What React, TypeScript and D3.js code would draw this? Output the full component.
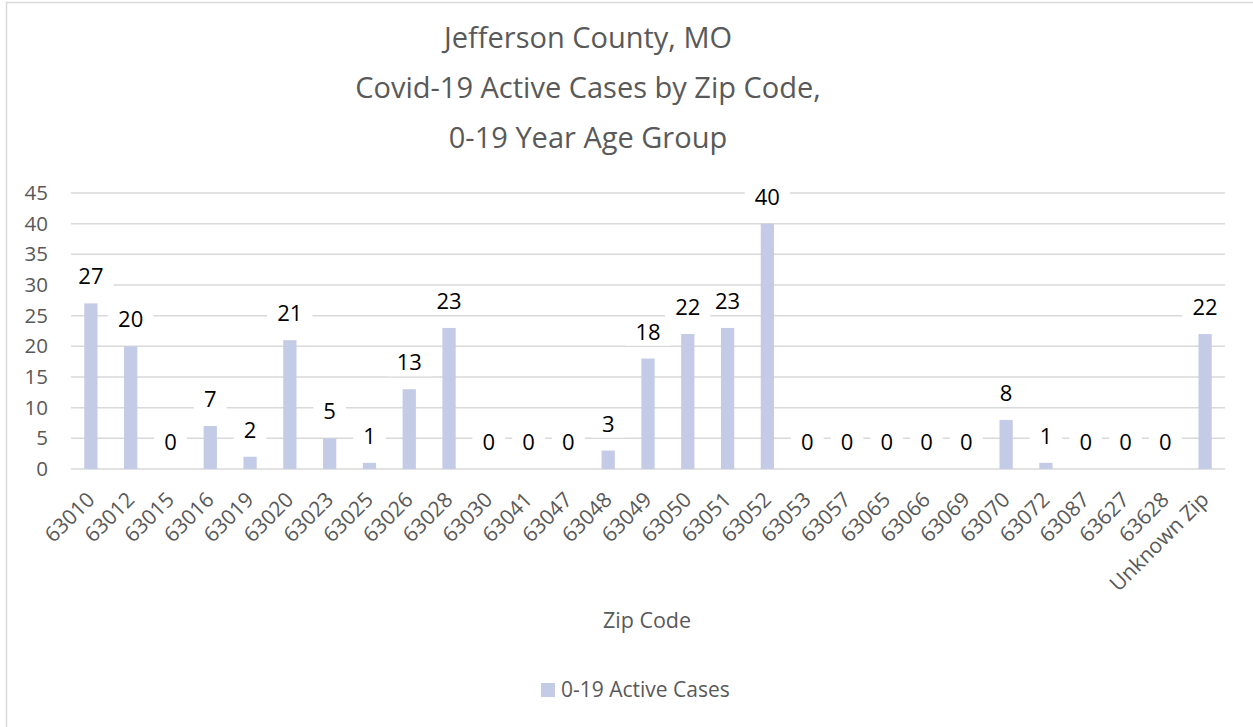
import React from "react";
import * as d3 from "d3";

const categories = ["63010","63012","63015","63016","63019","63020","63023","63025","63026","63028","63030","63041","63047","63048","63049","63050","63051","63052","63053","63057","63065","63066","63069","63070","63072","63087","63627","63628","Unknown Zip"];
const values = [27,20,0,7,2,21,5,1,13,23,0,0,0,3,18,22,23,40,0,0,0,0,0,8,1,0,0,0,22];
const yTicks = [0,5,10,15,20,25,30,35,40,45];
const titleLines = ["Jefferson County, MO","Covid-19 Active Cases by Zip Code,","0-19 Year Age Group"];
const seriesName = "0-19 Active Cases";
const xAxisTitle = "Zip Code";

const W = 1253, H = 727;
const FONT = "'Open Sans', Lato, sans-serif";
const GRAY = "#595959";
const BAR = "#c3cbe6";
const GRID = "#d9d9d9";

export default function App() {
  const x = d3.scaleBand<string>().domain(categories).range([71, 1225]).paddingInner(0.667).paddingOuter(0.3335);
  const y = d3.scaleLinear().domain([0, 45]).range([469, 193]);
  const labelFont = 22;
  return (
    <svg width={W} height={H} style={{ position: "absolute", left: 0, top: 0, background: "#fff" }}>
      <rect x={0} y={0} width={W} height={H} fill="#fff" />
      <rect x={6.5} y={2.5} width={1260} height={740} fill="none" stroke={GRID} strokeWidth={1.5} />
      {titleLines.map((t, i) => (
        <text key={i} x={588} y={48 + i * 50} textAnchor="middle" fontFamily={FONT} fontSize={29} fill={GRAY}>{t}</text>
      ))}
      {yTicks.map((t) => (
        <g key={t}>
          <line x1={71} x2={1225} y1={y(t)} y2={y(t)} stroke={GRID} strokeWidth={1.5} />
          <text x={48} y={y(t) + 7} textAnchor="end" fontFamily={FONT} fontSize={20.5} fill={GRAY}>{t}</text>
        </g>
      ))}
      {categories.map((c, i) => (
        <rect key={c} x={x(c)} y={y(values[i])} width={x.bandwidth()} height={y(0) - y(values[i])} fill={BAR} />
      ))}
      {categories.map((c, i) => {
        const cx = (x(c) as number) + x.bandwidth() / 2;
        const by = y(values[i]) - 19;
        const s = String(values[i]);
        const tw = s.length * 12.7;
        return (
          <g key={"l" + c}>
            <rect x={cx - tw / 2 - 10} y={by - 21} width={tw + 20} height={27} fill="#fff" />
            <text x={cx} y={by} textAnchor="middle" fontFamily={FONT} fontSize={labelFont} fill="#000">{s}</text>
          </g>
        );
      })}
      {categories.map((c) => {
        const cx = (x(c) as number) + x.bandwidth() / 2;
        return (
          <text key={"x" + c} transform={`translate(${cx + 5},${469 + 32}) rotate(-45)`} textAnchor="end" fontFamily={FONT} fontSize={21} fill={GRAY}>{c}</text>
        );
      })}
      <text x={647} y={628} textAnchor="middle" fontFamily={FONT} fontSize={21.5} fill={GRAY}>{xAxisTitle}</text>
      <rect x={541} y={683} width={14} height={14} fill={BAR} />
      <text x={561} y={697} fontFamily={FONT} fontSize={21} fill={GRAY}>{seriesName}</text>
    </svg>
  );
}
